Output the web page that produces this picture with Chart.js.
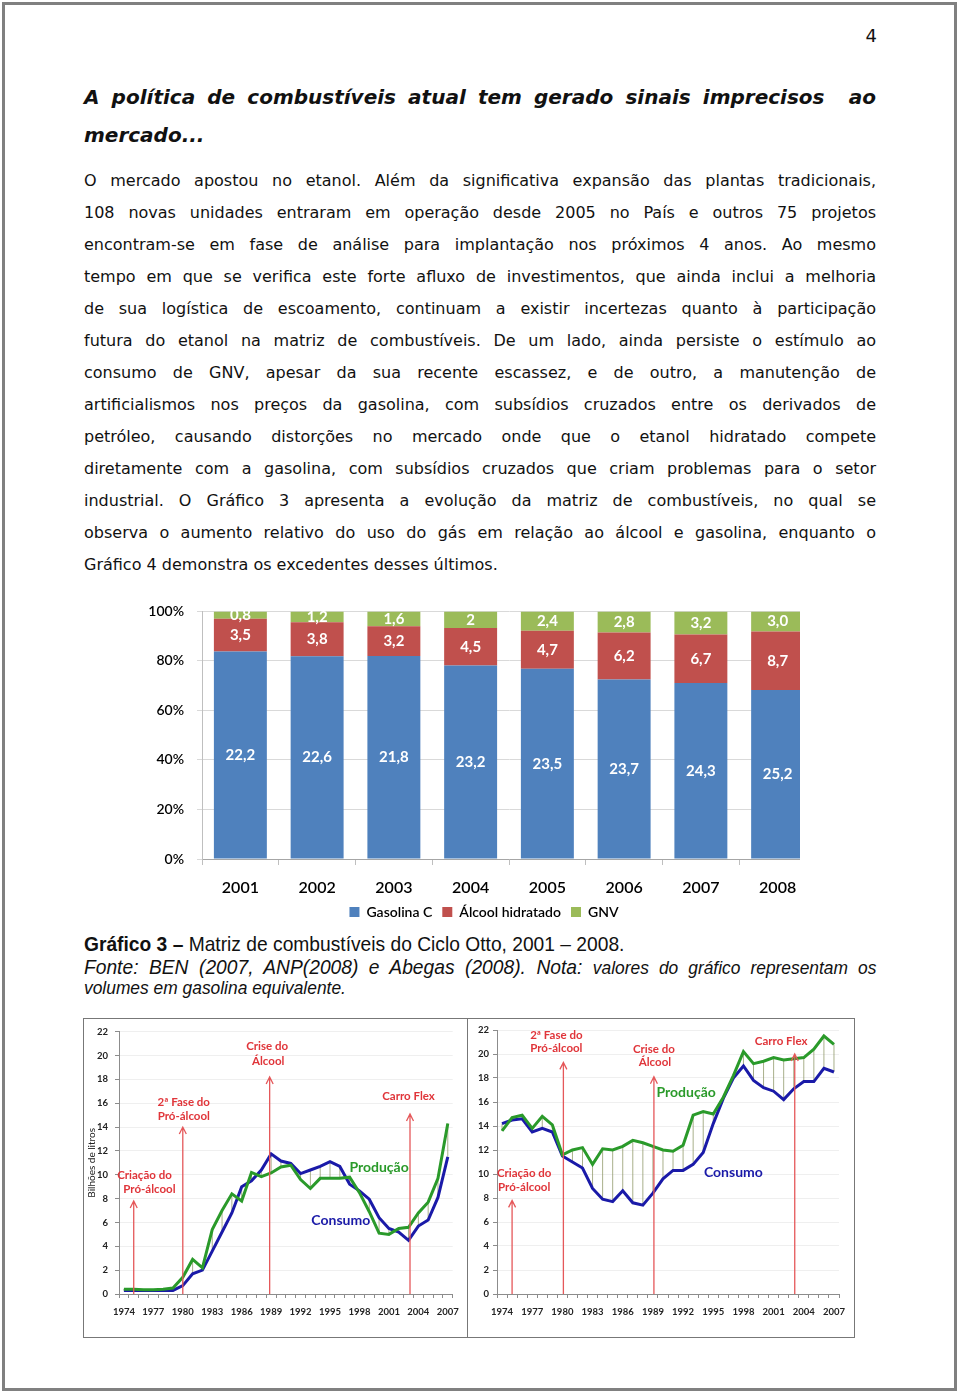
<!DOCTYPE html>
<html lang="pt-BR">
<head>
<meta charset="UTF-8">
<title>Matriz de combustíveis do Ciclo Otto</title>
<script src="https://cdn.jsdelivr.net/npm/chart.js"></script>
<style>
    body {
        margin: 0;
        width: 960px;
        height: 1393px;
        background: #fff;
        position: relative;
        overflow: hidden;
        color: #111;
    }
    .moldura {
        position: absolute;
        left: 2px; top: 2px;
        width: 955px; height: 1389px;
        border: 3px solid #808080;
        box-sizing: border-box;
    }
    .pagina {
        position: absolute;
        left: 860px; top: 24px;
        width: 17px;
        text-align: right;
        font: 18px 'DejaVu Sans';
        line-height: 24px;
    }
    .titulo {
        position: absolute;
        left: 84px; top: 78px;
        width: 792px;
        font: italic bold 20px 'DejaVu Sans';
        line-height: 38px;
    }
    .texto {
        position: absolute;
        left: 84px; top: 165px;
        width: 792px;
        font: 16px 'DejaVu Sans';
        line-height: 32px;
    }
    .linha {
        white-space: nowrap;
        text-align: justify;
        text-align-last: justify;
    }
    .ultima { text-align-last: left; }
    .legenda {
        position: absolute;
        left: 84px;
        width: 866px;
        font-family: 'Liberation Sans';
        white-space: nowrap;
        transform: scaleX(0.915);
        transform-origin: 0 0;
    }
    .cap1 { top: 932px; font-size: 21px; line-height: 24px; }
    .cap2 { top: 955px; font-size: 21px; line-height: 24px; font-style: italic; text-align: justify; text-align-last: justify; }
    .cap3 { top: 977px; font-size: 19px; line-height: 22px; font-style: italic; }
    .menor { font-size: 19px; }
    .clip {
        position: absolute;
        left: 140px; top: 590px;
        width: 660px; height: 339px;
        overflow: hidden;
    }
    .barras { position: relative; width: 700px; height: 339px; }
    .quadro {
        position: absolute;
        left: 83px; top: 1018px;
        width: 772px; height: 320px;
        border: 1px solid #777;
        box-sizing: border-box;
    }
    .divisor {
        position: absolute;
        left: 467px; top: 1018px;
        width: 1px; height: 320px;
        background: #777;
    }
    .g-esq { position: absolute; left: 84px; top: 1019px; width: 383px; height: 318px; }
    .g-dir { position: absolute; left: 468px; top: 1019px; width: 386px; height: 318px; }
</style>
</head>
<body>
    <div class="moldura"></div>
    <div class="pagina">4</div>

    <div class="titulo">
        <div class="linha">A política de combustíveis atual tem gerado sinais imprecisos&nbsp; ao</div>
        <div class="linha ultima">mercado...</div>
    </div>

    <div class="texto">
        <div class="linha">O mercado apostou no etanol. Além da significativa expansão das plantas tradicionais,</div>
        <div class="linha">108 novas unidades entraram em operação desde 2005 no País e outros 75 projetos</div>
        <div class="linha">encontram-se em fase de análise para implantação nos próximos 4 anos. Ao mesmo</div>
        <div class="linha">tempo em que se verifica este forte afluxo de investimentos, que ainda inclui a melhoria</div>
        <div class="linha">de sua logística de escoamento, continuam a existir incertezas quanto à participação</div>
        <div class="linha">futura do etanol na matriz de combustíveis. De um lado, ainda persiste o estímulo ao</div>
        <div class="linha">consumo de GNV, apesar da sua recente escassez, e de outro, a manutenção de</div>
        <div class="linha">artificialismos nos preços da gasolina, com subsídios cruzados entre os derivados de</div>
        <div class="linha">petróleo, causando distorções no mercado onde que o etanol hidratado compete</div>
        <div class="linha">diretamente com a gasolina, com subsídios cruzados que criam problemas para o setor</div>
        <div class="linha">industrial. O Gráfico 3 apresenta a evolução da matriz de combustíveis, no qual se</div>
        <div class="linha">observa o aumento relativo do uso do gás em relação ao álcool e gasolina, enquanto o</div>
        <div class="linha ultima">Gráfico 4 demonstra os excedentes desses últimos.</div>
    </div>

    <div class="clip"><div class="barras"><canvas id="matriz"></canvas></div></div>

    <div class="legenda cap1"><b>Gráfico 3 –</b> Matriz de combustíveis do Ciclo Otto, 2001 – 2008.</div>
    <div class="legenda cap2">Fonte: BEN (2007, ANP(2008) e Abegas (2008). Nota: <span class="menor">valores do gráfico representam os</span></div>
    <div class="legenda cap3">volumes em gasolina equivalente.</div>

    <div class="quadro"></div>
    <div class="divisor"></div>
    <div class="g-esq"><canvas id="alcool"></canvas></div>
    <div class="g-dir"><canvas id="gasolina"></canvas></div>

<script>
    // Gráfico 3 - volumes (bilhões de litros, gasolina equivalente)
    const anosMatriz = ['2001', '2002', '2003', '2004', '2005', '2006', '2007', '2008'];
    const gasolinaC = [22.2, 22.6, 21.8, 23.2, 23.5, 23.7, 24.3, 25.2];
    const alcoolHidratado = [3.5, 3.8, 3.2, 4.5, 4.7, 6.2, 6.7, 8.7];
    const gnv = [0.8, 1.2, 1.6, 2, 2.4, 2.8, 3.2, 3.0];
    const gnvRotulos = ['0,8', '1,2', '1,6', '2', '2,4', '2,8', '3,2', '3,0'];

    // séries 1974-2007 (bilhões de litros)
    const anosSerie = ['1974', '1975', '1976', '1977', '1978', '1979', '1980', '1981', '1982', '1983',
        '1984', '1985', '1986', '1987', '1988', '1989', '1990', '1991', '1992', '1993',
        '1994', '1995', '1996', '1997', '1998', '1999', '2000', '2001', '2002', '2003',
        '2004', '2005', '2006', '2007'];
    const alcoolProducao = [0.4, 0.4, 0.35, 0.35, 0.4, 0.5, 1.4, 2.9, 2.2, 5.4,
        7.0, 8.4, 7.8, 10.2, 9.85, 10.15, 10.65, 10.8, 9.6, 8.85,
        9.7, 9.7, 9.7, 9.8, 8.5, 6.9, 5.1, 5.0, 5.5, 5.6,
        6.8, 7.7, 9.7, 14.3];
    const alcoolConsumo = [0.3, 0.3, 0.3, 0.3, 0.3, 0.3, 0.7, 1.7, 2.0, 3.6,
        5.2, 6.8, 9.0, 9.5, 10.4, 11.75, 11.15, 10.95, 10.1, 10.4,
        10.7, 11.1, 10.7, 9.2, 8.65, 7.95, 6.4, 5.5, 5.2, 4.5,
        5.7, 6.2, 8.1, 11.5];
    const gasolinaProducao = [13.6, 14.7, 14.9, 13.8, 14.8, 14.1, 11.6, 12.0, 12.2, 10.8,
        12.1, 12.0, 12.3, 12.8, 12.6, 12.3, 12.0, 11.9, 12.4, 14.9,
        15.2, 15.0, 16.4, 18.2, 20.2, 19.2, 19.4, 19.7, 19.5, 19.6,
        19.7, 20.4, 21.5, 20.8];
    const gasolinaConsumo = [14.2, 14.5, 14.6, 13.5, 13.8, 13.5, 11.5, 11.0, 10.5, 8.8,
        7.9, 7.7, 8.6, 7.6, 7.4, 8.4, 9.6, 10.3, 10.3, 10.8,
        11.8, 14.2, 16.3, 18.0, 19.0, 17.8, 17.2, 16.9, 16.2, 17.1,
        17.7, 17.7, 18.8, 18.5];

    // anotações: [texto, ano, valor]
    const notasAlcool = [
        ['Criação do', 1976.1, 9.96], ['Pró-álcool', 1976.6, 8.79],
        ['2ª Fase do', 1980.1, 16.1], ['Pró-álcool', 1980.1, 14.9],
        ['Crise do', 1988.6, 20.75], ['Álcool', 1988.7, 19.5],
        ['Carro Flex', 2003.0, 16.6]
    ];
    const setasAlcool = [[1975.0, 7.8], [1980.0, 14.0], [1988.85, 18.2], [2003.15, 15.1]];
    const seriesAlcool = [['Produção', 2000.0, 10.6], ['Consumo', 1996.1, 6.15]];

    const notasGasolina = [
        ['Criação do', 1976.2, 10.04], ['Pró-álcool', 1976.2, 8.93],
        ['2ª Fase do', 1979.4, 21.6], ['Pró-álcool', 1979.4, 20.47],
        ['Crise do', 1989.1, 20.4], ['Álcool', 1989.2, 19.3],
        ['Carro Flex', 2001.75, 21.1]
    ];
    const setasGasolina = [[1975.0, 7.8], [1980.1, 19.3], [1989.1, 18.1], [2003.1, 20.0]];
    const seriesGasolina = [['Produção', 1992.3, 16.8], ['Consumo', 1997.0, 10.1]];

    Chart.defaults.font.family = 'Lato';
    Chart.defaults.color = '#000';

    const totais = gasolinaC.map((v, i) => v + alcoolHidratado[i] + gnv[i]);
    const percentual = arr => arr.map((v, i) => v / totais[i] * 100);
    const virgula = arr => arr.map(v => String(v).replace('.', ','));

    const rotulosBarras = {
        id: 'rotulosBarras',
        afterLayout(chart) {
            // legenda um pouco à direita, como no original
            chart.legend.left += 6;
            chart.legend.right += 6;
        },
        afterDatasetsDraw(chart) {
            const ctx = chart.ctx;
            ctx.save();
            ctx.font = 'bold 15px Lato';
            ctx.fillStyle = '#fff';
            ctx.textAlign = 'center';
            ctx.textBaseline = 'middle';
            chart.data.datasets.forEach((ds, d) => {
                chart.getDatasetMeta(d).data.forEach((bar, i) => {
                    ctx.fillText(ds.rotulos[i], bar.x, (bar.y + bar.base) / 2);
                });
            });
            ctx.restore();
        }
    };

    new Chart(document.getElementById('matriz'), {
        type: 'bar',
        data: {
            labels: anosMatriz,
            datasets: [
                { label: 'Gasolina C', data: percentual(gasolinaC), rotulos: virgula(gasolinaC), backgroundColor: '#4F81BD' },
                { label: 'Álcool hidratado', data: percentual(alcoolHidratado), rotulos: virgula(alcoolHidratado), backgroundColor: '#C0504D' },
                { label: 'GNV', data: percentual(gnv), rotulos: gnvRotulos, backgroundColor: '#9BBB59' }
            ]
        },
        options: {
            responsive: true,
            maintainAspectRatio: false,
            animation: false,
            categoryPercentage: 1,
            barPercentage: 0.69,
            layout: { padding: { top: 16, left: 0, right: 24, bottom: 0 } },
            plugins: {
                tooltip: { enabled: false },
                legend: {
                    position: 'bottom',
                    labels: { boxWidth: 10, boxHeight: 10, padding: 10, color: '#000', font: { size: 14, weight: '600' } }
                }
            },
            scales: {
                x: {
                    stacked: true,
                    grid: { offset: true, drawOnChartArea: false, tickLength: 6, color: '#BFBFBF' },
                    border: { color: '#A6A6A6' },
                    ticks: { padding: 13, color: '#000', font: { size: 16, weight: '600' } },
                    afterFit(s) { s.height = 36; }
                },
                y: {
                    stacked: true,
                    min: 0,
                    max: 100,
                    ticks: { stepSize: 20, padding: 13, color: '#000', font: { size: 14, weight: '600' }, callback: v => v + '%' },
                    grid: { color: '#D9D9D9', tickLength: 5 },
                    border: { color: '#BFBFBF' },
                    afterFit(s) { s.width = 62; }
                }
            }
        },
        plugins: [rotulosBarras]
    });

    // linhas verticais entre produção e consumo
    const altaBaixa = {
        id: 'altaBaixa',
        beforeDatasetsDraw(chart) {
            const ctx = chart.ctx;
            const a = chart.getDatasetMeta(0).data;
            const b = chart.getDatasetMeta(1).data;
            ctx.save();
            ctx.strokeStyle = 'rgba(140,150,100,0.75)';
            ctx.lineWidth = 1;
            a.forEach((p, i) => {
                ctx.beginPath();
                ctx.moveTo(p.x, p.y);
                ctx.lineTo(b[i].x, b[i].y);
                ctx.stroke();
            });
            ctx.restore();
        }
    };

    function anotacoes(notas, setas, series) {
        return {
            id: 'anotacoes',
            afterDatasetsDraw(chart) {
                const ctx = chart.ctx;
                const x = chart.scales.x, y = chart.scales.y;
                const px = ano => x.getPixelForValue(ano - 1974);
                ctx.save();
                ctx.strokeStyle = '#E5585A';
                ctx.lineWidth = 1.3;
                setas.forEach(([ano, topo]) => {
                    const sx = px(ano), y0 = y.getPixelForValue(0), y1 = y.getPixelForValue(topo);
                    ctx.beginPath();
                    ctx.moveTo(sx, y0);
                    ctx.lineTo(sx, y1);
                    ctx.moveTo(sx - 3.5, y1 + 7);
                    ctx.lineTo(sx, y1);
                    ctx.lineTo(sx + 3.5, y1 + 7);
                    ctx.stroke();
                });
                ctx.textAlign = 'center';
                ctx.textBaseline = 'middle';
                ctx.font = 'bold 11.5px Lato';
                ctx.fillStyle = '#E0353A';
                notas.forEach(([texto, ano, v]) => ctx.fillText(texto, px(ano), y.getPixelForValue(v)));
                ctx.font = 'bold 14px Lato';
                series.forEach(([texto, ano, v], i) => {
                    ctx.fillStyle = i === 0 ? '#2A9A2A' : '#1A1AA8';
                    ctx.fillText(texto, px(ano), y.getPixelForValue(v));
                });
                ctx.restore();
            }
        };
    }

    function graficoLinha(id, producao, consumo, notas, setas, series, cfg) {
        return new Chart(document.getElementById(id), {
            type: 'line',
            data: {
                labels: anosSerie,
                datasets: [
                    { label: 'Produção', data: producao, borderColor: '#2A9A2A', borderWidth: 3, pointRadius: 0, tension: 0 },
                    { label: 'Consumo', data: consumo, borderColor: '#1A1AA8', borderWidth: 3, pointRadius: 0, tension: 0 }
                ]
            },
            options: {
                responsive: true,
                maintainAspectRatio: false,
                animation: false,
                layout: { padding: cfg.padding },
                plugins: { legend: { display: false }, tooltip: { enabled: false } },
                scales: {
                    x: {
                        offset: true,
                        grid: { offset: true, drawOnChartArea: false, tickLength: 4, color: '#8C8C8C' },
                        border: { color: '#8C8C8C' },
                        ticks: {
                            autoSkip: false, maxRotation: 0, padding: 8, color: '#222',
                            font: { size: 9.5, weight: 'bold' },
                            callback: (v, i) => i % 3 === 0 ? anosSerie[i] : ''
                        },
                        afterFit(s) { s.height = 43; }
                    },
                    y: {
                        min: 0,
                        max: 22,
                        ticks: { stepSize: 2, padding: cfg.yPad, color: '#222', font: { size: 9.5, weight: 'bold' } },
                        grid: { color: '#EFEFEF', tickLength: 4, tickColor: '#8C8C8C' },
                        border: { color: '#8C8C8C' },
                        title: cfg.titulo
                            ? { display: true, text: cfg.titulo, color: '#222', font: { size: 10 }, padding: { top: 2, bottom: 0 } }
                            : { display: false },
                        afterFit(s) { s.width = cfg.eixoY; }
                    }
                }
            },
            plugins: [altaBaixa, anotacoes(notas, setas, series)]
        });
    }

    graficoLinha('alcool', alcoolProducao, alcoolConsumo, notasAlcool, setasAlcool, seriesAlcool,
        { padding: { top: 11, left: 0, right: 13, bottom: 0 }, yPad: 7, eixoY: 35, titulo: 'Bilhões de litros' });
    graficoLinha('gasolina', gasolinaProducao, gasolinaConsumo, notasGasolina, setasGasolina, seriesGasolina,
        { padding: { top: 11, left: 0, right: 15, bottom: 0 }, yPad: 4, eixoY: 29 });
</script>
</body>
</html>
